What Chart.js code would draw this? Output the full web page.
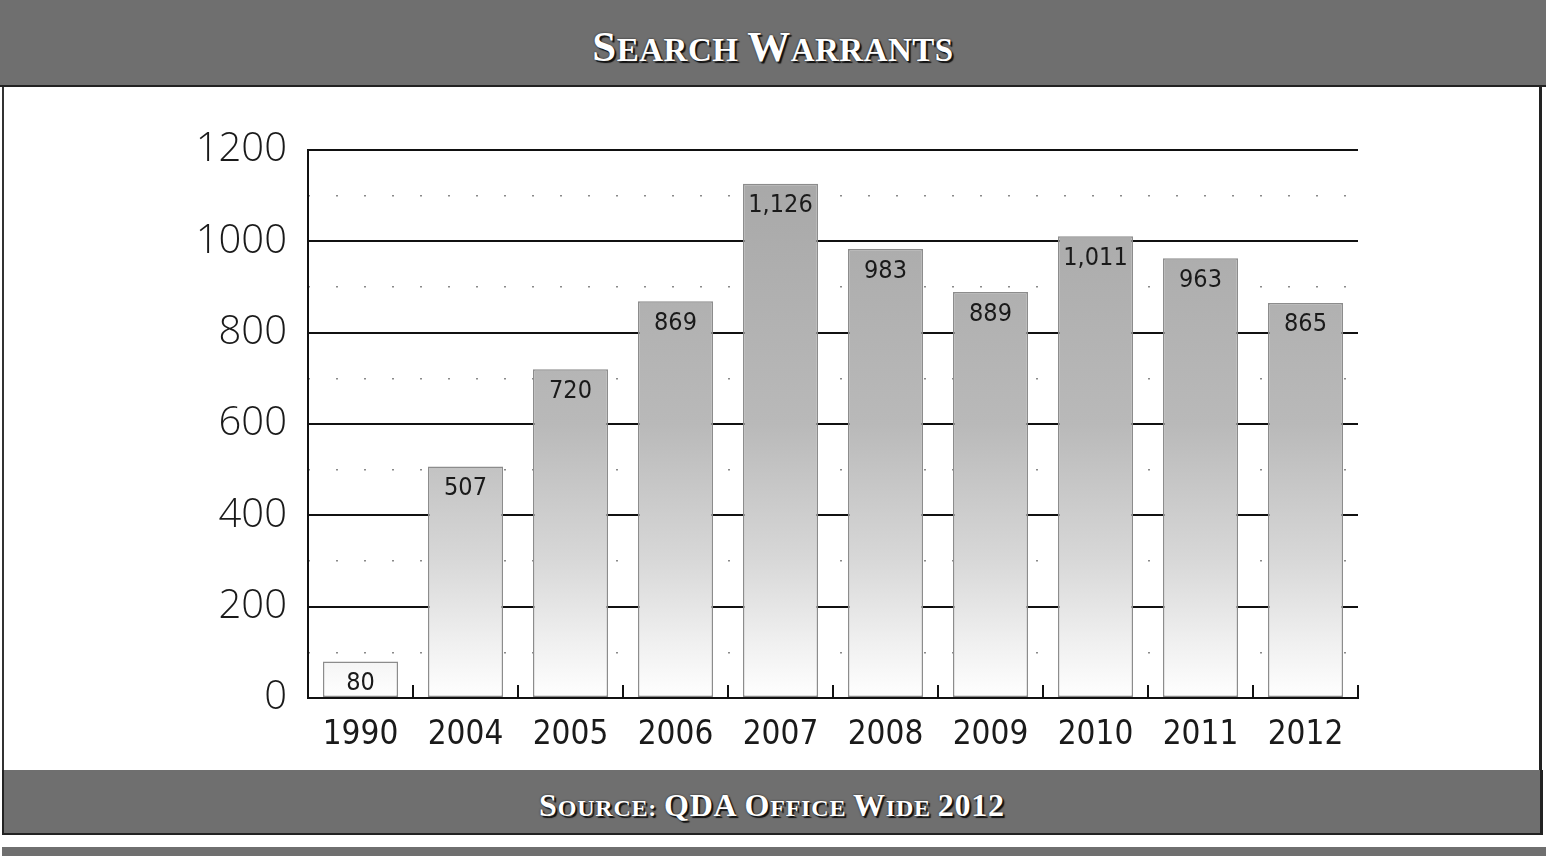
<!DOCTYPE html>
<html>
<head>
<meta charset="utf-8">
<title>Search Warrants</title>
<script src="https://cdn.jsdelivr.net/npm/chart.js@4.4.0/dist/chart.umd.min.js"></script>
<style>
	html, body { margin: 0; padding: 0; background: #fff; }
	body { width: 1546px; height: 856px; position: relative; overflow: hidden; }
	.band { position: absolute; background: #6f6f6f; color: #fff; text-align: center;
		font-family: "Liberation Serif", "DejaVu Serif", serif; font-weight: bold;
		text-shadow: 2px 2px 1px #111, 0 0 2px #222; }
	#header { left: 0; top: 0; width: 1546px; height: 85px; border-bottom: 2px solid #222; }
	#header .t { position: absolute; left: 0; right: 0; top: 22px; font-size: 33px; letter-spacing: 0.5px; }
	#header .big { font-size: 43px; }
	#panel { position: absolute; left: 2px; top: 87px; width: 1535px; height: 683px;
		border-left: 2px solid #333; border-right: 3px solid #222; background: #fff; }
	#footer { left: 2px; top: 770px; width: 1536px; height: 63px; border-left: 2px solid #222;
		border-right: 3px solid #222; border-bottom: 2px solid #222; }
	#footer .t { position: absolute; left: 0; right: 0; top: 17px; font-size: 24px; letter-spacing: 0.8px; }
	#footer .big { font-size: 32px; }
	#bottom { left: 2px; top: 847px; width: 1544px; height: 9px; }
	#chartBox { position: absolute; left: 0; top: 87px; width: 1541px; height: 683px; }
</style>
</head>
<body>
	<div id="header" class="band"><div class="t"><span class="big">S</span>EARCH <span class="big">W</span>ARRANTS</div></div>
	<div id="panel"></div>
	<div id="chartBox"><canvas id="canvas"></canvas></div>
	<div id="footer" class="band"><div class="t"><span class="big">S</span>OURCE: <span class="big">QDA O</span>FFICE <span class="big">W</span>IDE <span class="big">2012</span></div></div>
	<div id="bottom" class="band"></div>
	<script type="text/javascript">
		var years = ['1990', '2004', '2005', '2006', '2007', '2008', '2009', '2010', '2011', '2012'];
		var warrants = [80, 507, 720, 869, 1126, 983, 889, 1011, 963, 865];
		var yTicks = [0, 200, 400, 600, 800, 1000, 1200];

		var narrow = '"Liberation Sans Narrow", "DejaVu Sans Condensed", sans-serif';

		// value written inside the top of each bar
		var valueLabels = {
			id: 'valueLabels',
			afterDatasetsDraw: function(chart) {
				var ctx = chart.ctx;
				var meta = chart.getDatasetMeta(0);
				ctx.save();
				ctx.font = '25px ' + narrow;
				ctx.fillStyle = '#1a1a1a';
				ctx.textAlign = 'center';
				ctx.textBaseline = 'middle';
				meta.data.forEach(function(bar, i) {
					ctx.fillText(warrants[i].toLocaleString('en-US'), bar.x, bar.y + 22);
				});
				ctx.restore();
			}
		};

		// short ticks pointing up from the axis between categories
		var boundaryTicks = {
			id: 'boundaryTicks',
			beforeDatasetsDraw: function(chart) {
				var x = chart.scales.x, area = chart.chartArea, ctx = chart.ctx;
				var half = (x.getPixelForValue(1) - x.getPixelForValue(0)) / 2;
				ctx.save();
				ctx.strokeStyle = '#111';
				ctx.lineWidth = 2;
				for (var i = 0; i < years.length; i++) {
					var px = Math.round(x.getPixelForValue(i) + half);
					ctx.beginPath();
					ctx.moveTo(px, area.bottom);
					ctx.lineTo(px, area.bottom - 13);
					ctx.stroke();
				}
				ctx.restore();
			}
		};

		window.onload = function() {
			var ctx = document.getElementById('canvas').getContext('2d');
			new Chart(ctx, {
				type: 'bar',
				data: {
					labels: years,
					datasets: [{
						label: 'Search Warrants',
						data: warrants,
						backgroundColor: function(c) {
							var area = c.chart.chartArea;
							if (!area) return '#bbb';
							var g = c.chart.ctx.createLinearGradient(0, area.top, 0, area.bottom);
							g.addColorStop(0, '#a6a6a6');
							g.addColorStop(0.5, '#b9b9b9');
							g.addColorStop(0.75, '#d8d8d8');
							g.addColorStop(0.9, '#f0f0f0');
							g.addColorStop(1, '#ffffff');
							return g;
						},
						borderColor: '#8c8c8c',
						borderWidth: 1.5,
						borderSkipped: false,
						barPercentage: 0.715,
						categoryPercentage: 1
					}]
				},
				options: {
					responsive: true,
					maintainAspectRatio: false,
					animation: false,
					layout: { padding: { left: 100, right: 183, top: 63, bottom: 0 } },
					plugins: {
						legend: { display: false },
						tooltip: { enabled: false }
					},
					scales: {
						x: {
							offset: true,
							grid: { display: false },
							border: { display: true, color: '#111', width: 2 },
							ticks: { color: '#1a1a1a', padding: 10, font: { family: narrow, size: 33 } },
							afterFit: function(s) { s.height = 72; }
						},
						y: {
							min: 0,
							max: 1200,
							afterBuildTicks: function(s) { s.ticks = yTicks.map(function(v) { return { value: v }; }); },
							ticks: {
								color: '#1a1a1a',
								padding: 21,
								font: { family: '"Open Sans", "DejaVu Sans", sans-serif', size: 40, weight: 300 },
								callback: function(v) { return String(v); }
							},
							grid: { color: '#111', lineWidth: 2, drawTicks: false },
							border: { color: '#111', width: 2 },
							afterFit: function(s) { s.width = 208; }
						},
						y2: {
							position: 'left',
							min: 0,
							max: 1200,
							ticks: { stepSize: 100, display: false },
							grid: {
								color: function(c) { return c.tick && c.tick.value % 200 ? '#8a8a8a' : 'rgba(0,0,0,0)'; },
								lineWidth: 1.5,
								drawTicks: false
							},
							border: { display: false, dash: [2, 26] },
							afterFit: function(s) { s.width = 0; }
						}
					}
				},
				plugins: [boundaryTicks, valueLabels]
			});
		};
	</script>
</body>
</html>
